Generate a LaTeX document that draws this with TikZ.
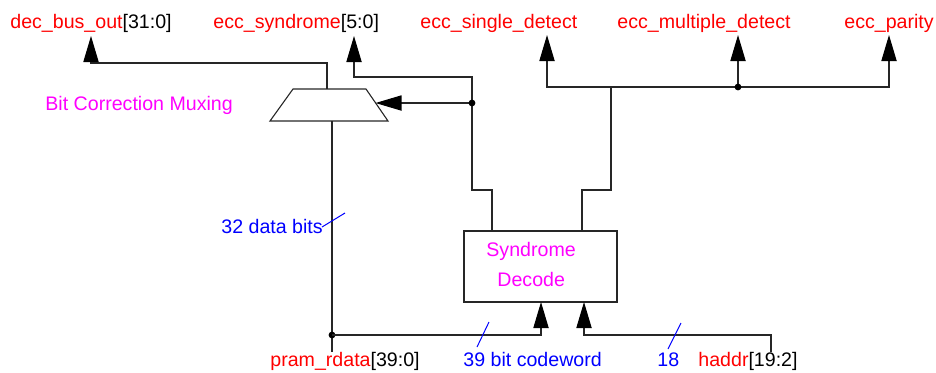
\documentclass[tikz,border=0pt]{standalone}
\usepackage{fontspec}
\setmainfont{Liberation Sans}
\usetikzlibrary{arrows.meta}
\definecolor{lblred}{RGB}{255,0,0}
\definecolor{lblmag}{RGB}{255,0,255}
\definecolor{lblblue}{RGB}{0,0,255}
\begin{document}
\begin{tikzpicture}[x=0.5pt,y=-0.5pt,
  wire/.style={draw=black!85, line width=0.55pt},
  arr/.style={wire, -{Triangle[length=13pt,width=7.6pt,color=black]}},
  jdot/.style={circle, fill=black, inner sep=0pt, minimum size=3.4pt},
  lbl/.style={font=\fontsize{9.8}{12}\selectfont, inner sep=0pt, anchor=base west},
  tick/.style={draw=lblblue, line width=0.5pt}]
\useasboundingbox (0,0) rectangle (936,372);

% labels
\node[lbl] (dbo) at (10,28) {\textcolor{lblred}{dec\_bus\_out}[31:0]};
\node[lbl] (syndl) at (213,28) {\textcolor{lblred}{ecc\_syndrome}[5:0]};
\node[lbl,text=lblred] (single) at (420,28) {ecc\_single\_detect};
\node[lbl,text=lblred] (multi) at (617,28) {ecc\_multiple\_detect};
\node[lbl,text=lblred] (parity) at (844,28) {ecc\_parity};
\node[lbl,text=lblmag] (bcm) at (45,110) {Bit Correction Muxing};
\node[lbl,text=lblblue] (dbits) at (221,233) {32 data bits};
\node[lbl] (pram) at (270,366) {\textcolor{lblred}{pram\_rdata}[39:0]};
\node[lbl,text=lblblue] (cw) at (463,366) {39 bit codeword};
\node[lbl,text=lblblue] (n18) at (657,366) {18};
\node[lbl] (haddr) at (698,366) {\textcolor{lblred}{haddr}[19:2]};

% syndrome decode box
\node[draw=black!85, line width=0.55pt, minimum width=76.5pt, minimum height=35.5pt, inner sep=0pt] (syn) at (540.5,266.5) {};
\node[lbl,text=lblmag] (synt1) at (486,256) {Syndrome};
\node[lbl,text=lblmag] (synt2) at (497,286) {Decode};

% mux trapezoid
\draw[wire] (270,121) -- (293,89) -- (366,89) -- (388,121) -- cycle;
\coordinate (muxtop) at (327,89);
\coordinate (muxbot) at (332,121);
\coordinate (muxin) at (375.5,103);

% coordinates
\coordinate (tDBO) at (91,36);
\coordinate (tSYN) at (354,36);
\coordinate (tSGL) at (547,35);
\coordinate (tMUL) at (738,35);
\coordinate (tPAR) at (889,35);
\coordinate (jIn) at (472,103);
\coordinate (jBus) at (738,87);
\coordinate (jPram) at (332,335);
\coordinate (pramEnd) at (332,352);
\coordinate (haddrEnd) at (771,352);
\coordinate (synA) at (492,231);
\coordinate (synB) at (582,231);
\coordinate (synIn1) at (541,302);
\coordinate (synIn2) at (584,302);

% outputs
\draw[arr] (muxtop) -- (327,63) -- (91,63) -- (tDBO);
\draw[arr] (synA) -- (492,190) -- (472,190) -- (472,77) -- (354,77) -- (tSYN);
\draw[arr] (jIn) -- (muxin);
\node[jdot] at (jIn) {};
\draw[wire] (synB) -- (582,190) -- (611,190) -- (611,87);
\draw[arr] (611,87) -- (547,87) -- (tSGL);
\draw[arr] (611,87) -- (889,87) -- (tPAR);
\draw[arr] (jBus) -- (tMUL);
\node[jdot] at (jBus) {};

% inputs
\draw[wire] (muxbot) -- (pramEnd);
\node[jdot] at (jPram) {};
\draw[arr] (jPram) -- (541,335) -- (synIn1);
\draw[arr] (haddrEnd) -- (771,335) -- (584,335) -- (synIn2);

% bus width ticks
\draw[tick] (322,227) -- (345,213);
\draw[tick] (477,347) -- (489,322);
\draw[tick] (668,349) -- (681,323);
\end{tikzpicture}
\end{document}
